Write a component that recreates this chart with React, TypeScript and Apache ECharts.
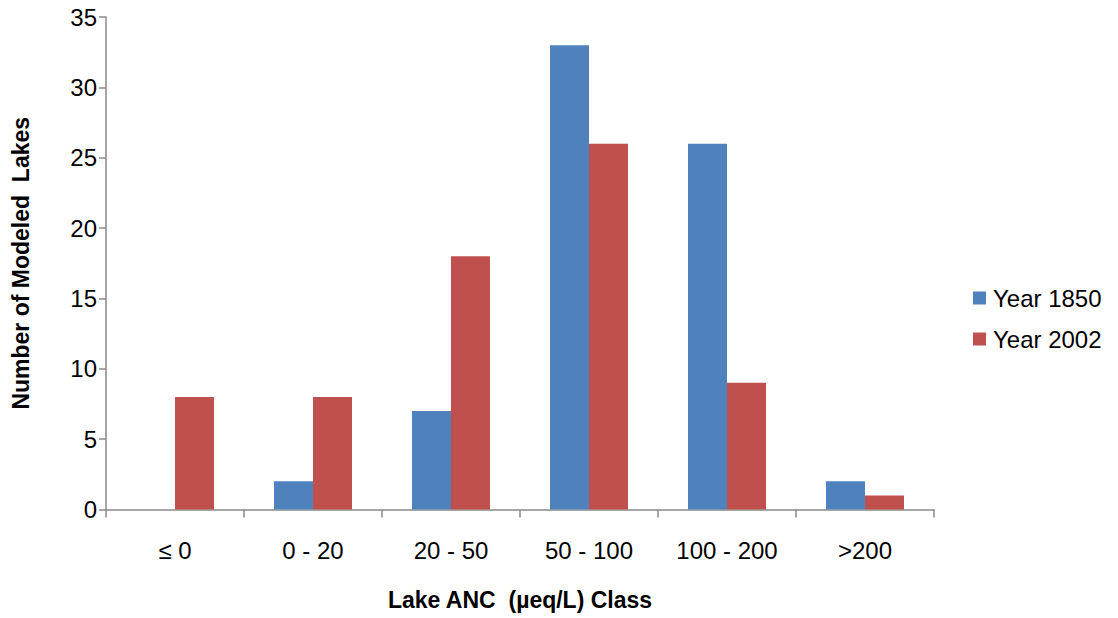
import React, { useEffect, useRef } from "react";
import * as echarts from "echarts";

const categories = ["≤ 0", "0 - 20", "20 - 50", "50 - 100", "100 - 200", ">200"];
const year1850 = [0, 2, 7, 33, 26, 2];
const year2002 = [8, 8, 18, 26, 9, 1];
const seriesNames = ["Year 1850", "Year 2002"];
const xTitle = "Lake ANC  (µeq/L) Class";
const yTitle = "Number of Modeled  Lakes";

const FONT = '"Liberation Sans", Arial, sans-serif';

export default function App() {
  const ref = useRef<HTMLDivElement>(null);
  useEffect(() => {
    const chart = echarts.init(ref.current!, null, { renderer: "svg" });
    const axisColor = "#8a8a8a";
    chart.setOption({
      animation: false,
      backgroundColor: "#ffffff",
      textStyle: { fontFamily: FONT },
      grid: { left: 106, right: 184, top: 17, bottom: 108.5, containLabel: false },
      legend: {
        orient: "vertical",
        left: 973,
        top: 286,
        padding: 0,
        itemWidth: 13,
        itemHeight: 13,
        itemGap: 17,
        icon: "rect",
        textStyle: { fontFamily: FONT, fontSize: 24, color: "#000", lineHeight: 24, padding: [0, 0, 0, 2] },
        data: seriesNames,
      },
      xAxis: {
        type: "category",
        data: categories,
        axisLine: { lineStyle: { color: axisColor, width: 1.5 } },
        axisTick: { show: true, inside: false, length: 8, alignWithLabel: false, lineStyle: { color: axisColor, width: 1.5 } },
        axisLabel: { color: "#000", fontSize: 24, fontFamily: FONT, margin: 29, interval: 0 },
        name: xTitle,
        nameLocation: "middle",
        nameGap: 79,
        nameTextStyle: { fontFamily: FONT, fontWeight: "bold", fontSize: 23, color: "#000" },
      },
      yAxis: {
        type: "value",
        min: 0,
        max: 35,
        interval: 5,
        splitLine: { show: false },
        axisLine: { show: true, lineStyle: { color: axisColor, width: 1.5 } },
        axisTick: { show: true, inside: false, length: 7, lineStyle: { color: axisColor, width: 1.5 } },
        axisLabel: { color: "#000", fontSize: 24, fontFamily: FONT, margin: 9 },
        name: yTitle,
        nameLocation: "middle",
        nameGap: 74,
        nameRotate: 90,
        nameTextStyle: { fontFamily: FONT, fontWeight: "bold", fontSize: 23, color: "#000" },
      },
      series: [
        {
          name: seriesNames[0],
          type: "bar",
          data: year1850,
          barWidth: 39,
          barGap: "0%",
          itemStyle: { color: "#4F81BD" },
        },
        {
          name: seriesNames[1],
          type: "bar",
          data: year2002,
          barWidth: 39,
          barGap: "0%",
          itemStyle: { color: "#C0504D" },
        },
      ],
    });
    return () => chart.dispose();
  }, []);
  return (
    <div
      ref={ref}
      style={{ position: "fixed", left: 0, top: 0, width: 1118, height: 618, background: "#fff" }}
    />
  );
}
